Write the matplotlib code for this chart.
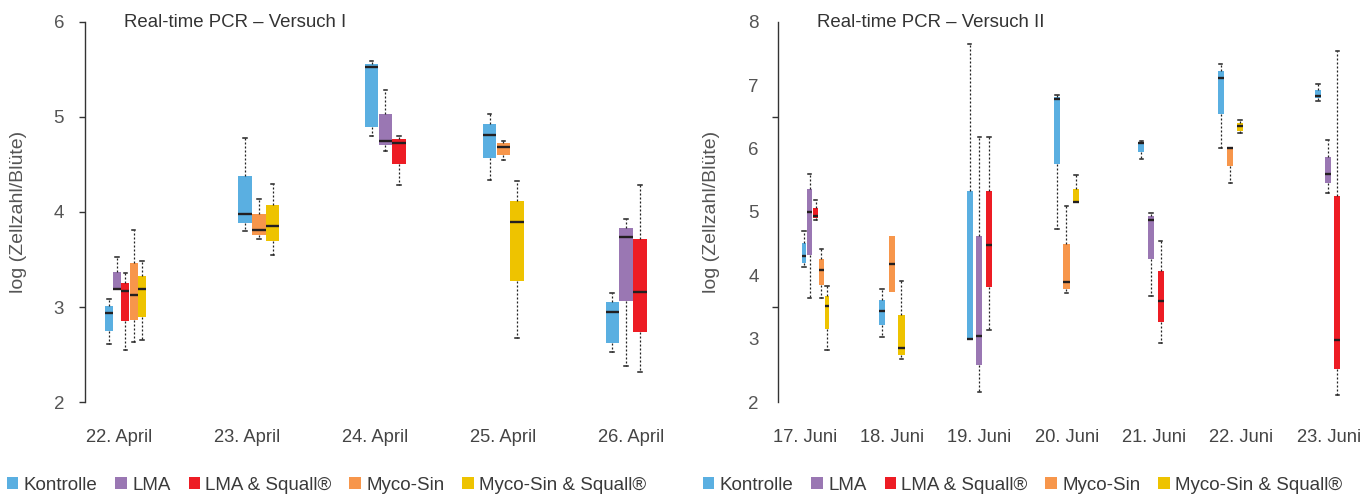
import matplotlib.pyplot as plt
from matplotlib.patches import Patch

# Boxplot stats per day: (lower whisker, q1, median, q3, upper whisker), None = no box
days_1 = ['22. April', '23. April', '24. April', '25. April', '26. April']
kontrolle_1 = [(2.61, 2.75, 2.94, 3.01, 3.09), (3.80, 3.88, 3.98, 4.38, 4.78),
               (4.80, 4.89, 5.52, 5.56, 5.59), (4.34, 4.57, 4.81, 4.93, 5.03),
               (2.53, 2.62, 2.95, 3.05, 3.15)]
lma_1 = [(3.19, 3.19, 3.19, 3.37, 3.53), None,
         (4.64, 4.70, 4.75, 5.03, 5.28), None,
         (2.38, 3.06, 3.74, 3.83, 3.93)]
lma_squall_1 = [(2.55, 2.85, 3.17, 3.25, 3.36), None,
                (4.28, 4.50, 4.73, 4.77, 4.80), None,
                (2.32, 2.74, 3.16, 3.72, 4.28)]
myco_1 = [(2.63, 2.86, 3.13, 3.46, 3.81), (3.72, 3.76, 3.81, 3.98, 4.14),
          None, (4.55, 4.60, 4.68, 4.72, 4.75), None]
myco_squall_1 = [(2.65, 2.90, 3.19, 3.33, 3.48), (3.55, 3.70, 3.85, 4.07, 4.29),
                 None, (2.68, 3.28, 3.89, 4.12, 4.33), None]

days_2 = ['17. Juni', '18. Juni', '19. Juni', '20. Juni', '21. Juni', '22. Juni', '23. Juni']
kontrolle_2 = [(4.13, 4.20, 4.30, 4.51, 4.70), (3.03, 3.22, 3.44, 3.61, 3.78),
               (3.00, 3.00, 3.00, 5.33, 7.65), (4.73, 5.76, 6.78, 6.82, 6.85),
               (5.84, 5.95, 6.09, 6.11, 6.12), (6.01, 6.55, 7.12, 7.22, 7.33),
               (6.75, 6.79, 6.83, 6.92, 7.01)]
lma_2 = [(3.65, 4.32, 5.00, 5.36, 5.60), None, (2.17, 2.59, 3.05, 4.62, 6.18), None,
         (3.68, 4.26, 4.87, 4.94, 4.99), None, (5.30, 5.45, 5.60, 5.87, 6.13)]
lma_squall_2 = [(4.88, 4.90, 4.93, 5.06, 5.19), None, (3.14, 3.81, 4.48, 5.33, 6.18), None,
                (2.93, 3.26, 3.59, 4.07, 4.55), None, (2.12, 2.53, 2.98, 5.25, 7.54)]
myco_2 = [(3.64, 3.85, 4.08, 4.26, 4.41), (3.74, 3.74, 4.18, 4.62, 4.62), None,
          (3.73, 3.79, 3.89, 4.50, 5.10), None, (5.46, 5.73, 6.01, 6.02, 6.02), None]
myco_squall_2 = [(2.82, 3.16, 3.52, 3.68, 3.83), (2.68, 2.75, 2.85, 3.38, 3.91), None,
                 (5.14, 5.14, 5.15, 5.36, 5.58), None, (6.25, 6.28, 6.35, 6.40, 6.45), None]

names = ['Kontrolle', 'LMA', 'LMA & Squall®', 'Myco-Sin', 'Myco-Sin & Squall®']
colors = ['#5aafe1', '#9a77b3', '#ed1c24', '#f7964b', '#eec300']

# group centres (in category units) - boxes sit a bit off the labels in the original
groups_1 = [0.045, 1.09, 2.078, 3.002, 3.961]
groups_2 = [0.124, 0.997, 1.999, 2.996, 3.964, 4.871, 5.986]

SANS = ['Liberation Sans', 'DejaVu Sans']
W, H = 1371, 496

fig = plt.figure(figsize=(W / 100, H / 100), dpi=100)
ax1 = fig.add_axes([85 / W, (H - 402.3) / H, 595 / W, 380.6 / H])
ax2 = fig.add_axes([777.7 / W, (H - 402.3) / H, 593.3 / W, 380.6 / H])


def draw(ax, series, groups, group_w, px_unit, narrow_right):
    for d, g in enumerate(groups):
        present = [i for i, s in enumerate(series) if s[d] is not None]
        n = len(present)
        pitch = group_w / n
        if narrow_right:
            w = min(0.8 * pitch, 6.1 / px_unit)
        else:
            w = 0.98 * pitch
        for k, i in enumerate(present):
            lo, q1, med, q3, hi = series[i][d]
            st = dict(med=med, q1=q1, q3=q3, whislo=lo, whishi=hi, fliers=[])
            pos = g + (k - (n - 1) / 2) * pitch
            art = ax.bxp([st], positions=[pos], widths=[w], capwidths=[3.5 / px_unit],
                         patch_artist=True, showfliers=False, manage_ticks=False,
                         boxprops=dict(facecolor=colors[i], edgecolor='none', linewidth=0),
                         medianprops=dict(color='#231f20', linewidth=1.7, solid_capstyle='butt'),
                         whiskerprops=dict(color='#222222', linewidth=0.9, linestyle=(0, (1.6, 1.6))),
                         capprops=dict(color='#222222', linewidth=1.1))
            for wl, cp in zip(art['whiskers'], art['caps']):
                y = wl.get_ydata()
                if abs(y[1] - y[0]) < 1e-9:
                    wl.set_visible(False)
                    cp.set_visible(False)


series_1 = [kontrolle_1, lma_1, lma_squall_1, myco_1, myco_squall_1]
series_2 = [kontrolle_2, lma_2, lma_squall_2, myco_2, myco_squall_2]

px1 = 127.85
px2 = 87.37
draw(ax1, series_1, groups_1, 41.3 / px1, px1, False)
draw(ax2, series_2, groups_2, 29.0 / px2, px2, True)

ax1.set_xlim((85 - 119.6) / px1, (680 - 119.6) / px1)
ax2.set_xlim((777.7 - 804.7) / px2, (1371 - 804.7) / px2)
ax1.set_ylim(2, 6)
ax2.set_ylim(2, 8)

for ax, days in [(ax1, days_1), (ax2, days_2)]:
    for s in ['top', 'right', 'bottom']:
        ax.spines[s].set_visible(False)
    ax.spines['left'].set_color('#333333')
    ax.spines['left'].set_linewidth(1.0)
    ax.set_xticks(range(len(days)))
    ax.set_xticklabels(days, family=SANS, fontsize=13.2, color='#444444')
    ax.tick_params(axis='x', length=0, pad=19)
    ax.set_ylabel('log (Zellzahl/Blüte)', family=SANS, fontsize=14, color='#555555')
    ax.yaxis.set_label_coords(-58 / 595, 0.5)

ax1.set_yticks([2, 3, 4, 5, 6])
ax1.tick_params(axis='y', length=4, width=1.0, color='#333333', pad=11)
ax2.set_yticks([2, 3, 4, 5, 6, 7, 8])
ax2.tick_params(axis='y', which='major', length=0, pad=13.5)
ax2.set_yticks([2, 3.5, 5, 6.5, 8], minor=True)
ax2.tick_params(axis='y', which='minor', length=4, width=1.0, color='#333333')
for ax in (ax1, ax2):
    for lab in ax.get_yticklabels():
        lab.set_family(SANS)
        lab.set_fontsize(13.5)
        lab.set_color('#555555')

ax1.text(39 / 595, 0.985, 'Real-time PCR – Versuch I', transform=ax1.transAxes,
         family=SANS, fontsize=13.4, color='#333333', va='baseline')
ax2.text(39 / 593.3, 0.985, 'Real-time PCR – Versuch II', transform=ax2.transAxes,
         family=SANS, fontsize=13.4, color='#333333', va='baseline')

handles = [Patch(facecolor=c, edgecolor='none') for c in colors]
for x0 in (7, 703):
    leg = fig.legend(handles, names, loc='center left', bbox_to_anchor=(x0 / W, 1 - 485 / H),
                     ncol=5, frameon=False, borderaxespad=0, borderpad=0,
                     handlelength=0.6, handleheight=0.6, handletextpad=0.3,
                     columnspacing=0.95, prop=dict(family=SANS, size=13.5))
    for t in leg.get_texts():
        t.set_color('#3a3a3a')

fig.savefig('out.png', dpi=100)
